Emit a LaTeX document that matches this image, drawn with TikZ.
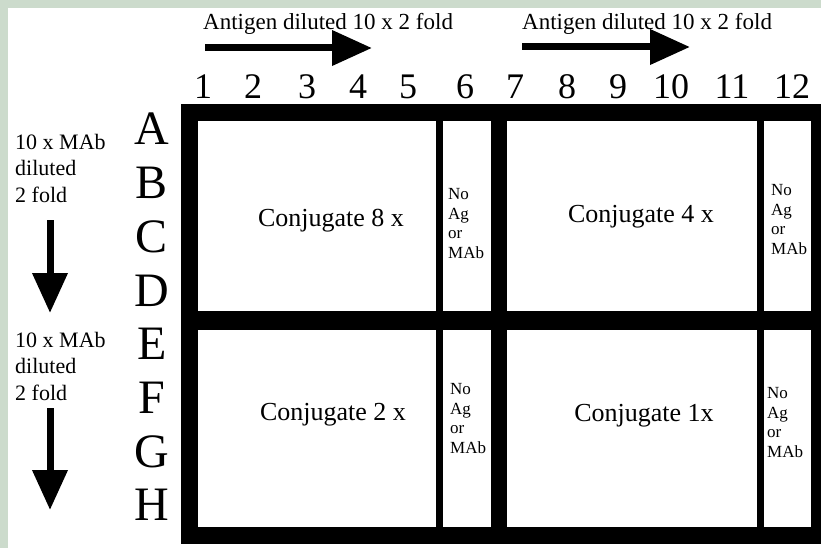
\documentclass[tikz,border=0pt]{standalone}
\usepackage{fontspec}
\setmainfont{Liberation Serif}
\usetikzlibrary{arrows.meta}
\definecolor{frameback}{RGB}{204,219,204}

\begin{document}
\begin{tikzpicture}[
    x=1pt, y=-1pt,
    wall/.style={line width=17pt, line join=miter},
    thinwall/.style={line width=7pt},
    thickwall/.style={line width=16pt},
    dil/.style={-{Triangle[length=40pt, width=34pt]}, line width=7pt},
    colnum/.style={font=\fontsize{36}{36}\selectfont, inner sep=0pt, anchor=base},
    rowlet/.style={font=\fontsize{48}{48}\selectfont, inner sep=0pt, anchor=base},
    title/.style={font=\fontsize{23}{23}\selectfont, inner sep=0pt, anchor=base west},
    side/.style={font=\fontsize{22}{26.5}\selectfont, inner sep=0pt, anchor=base west, align=left},
    conj/.style={font=\fontsize{26}{26}\selectfont, inner sep=0pt, anchor=base},
    blank/.style={font=\fontsize{17}{19.5}\selectfont, inner sep=0pt, anchor=base west, align=left}
  ]
  \useasboundingbox (0,0) rectangle (821,548);
  \fill[frameback] (0,0) rectangle (821,548);
  \fill[white] (8,8) rectangle (821,548);

  % plate outline and dividers
  \draw[wall] (189,113) rectangle (819.5,535);
  \draw[line width=19pt] (189,320.5) -- (819.5,320.5);
  \draw[thinwall] (439.5,113) -- (439.5,535);
  \draw[thickwall] (499,113) -- (499,535);
  \draw[thinwall] (760.5,113) -- (760.5,535);

  % column numbers and row letters
  \foreach \n/\x in {1/203,2/253,3/307,4/358,5/408,6/465,7/515,8/567,9/618,10/671,11/732,12/792}
    \node[colnum] (col\n) at (\x,99) {\n};
  \foreach \r [count=\i] in {A,B,C,D,E,F,G,H}
    \node[rowlet] (row\r) at (152,{145+(\i-1)*53.7}) {\r};

  % antigen dilution
  \node[title] (agL) at (203,30) {Antigen diluted 10 x 2 fold};
  \node[title] (agR) at (522,30) {Antigen diluted 10 x 2 fold};
  \coordinate (agL-s) at (205,48);
  \coordinate (agL-e) at (372,48);
  \coordinate (agR-s) at (522,47);
  \coordinate (agR-e) at (690,47);
  \draw[dil] (agL-s) -- (agL-e);
  \draw[dil] (agR-s) -- (agR-e);

  % MAb dilution (base = last line)
  \node[side] (mabT) at (15,202) {10 x MAb\\diluted\\2 fold};
  \node[side] (mabB) at (15,400) {10 x MAb\\diluted\\2 fold};
  \coordinate (mabT-s) at (50,220);
  \coordinate (mabT-e) at (50,313);
  \coordinate (mabB-s) at (50,408);
  \coordinate (mabB-e) at (50,510);
  \draw[dil] (mabT-s) -- (mabT-e);
  \draw[dil] (mabB-s) -- (mabB-e);

  % quadrants
  \node[conj] (conj8) at (331,226) {Conjugate 8 x};
  \node[conj] (conj4) at (641,222) {Conjugate 4 x};
  \node[conj] (conj2) at (333,420) {Conjugate 2 x};
  \node[conj] (conj1) at (644,421) {Conjugate 1x};
  \node[blank] (ctlTL) at (448,258) {No\\Ag\\or\\MAb};
  \node[blank] (ctlTR) at (771,254) {No\\Ag\\or\\MAb};
  \node[blank] (ctlBL) at (450,453) {No\\Ag\\or\\MAb};
  \node[blank] (ctlBR) at (767,457) {No\\Ag\\or\\MAb};
\end{tikzpicture}
\end{document}
